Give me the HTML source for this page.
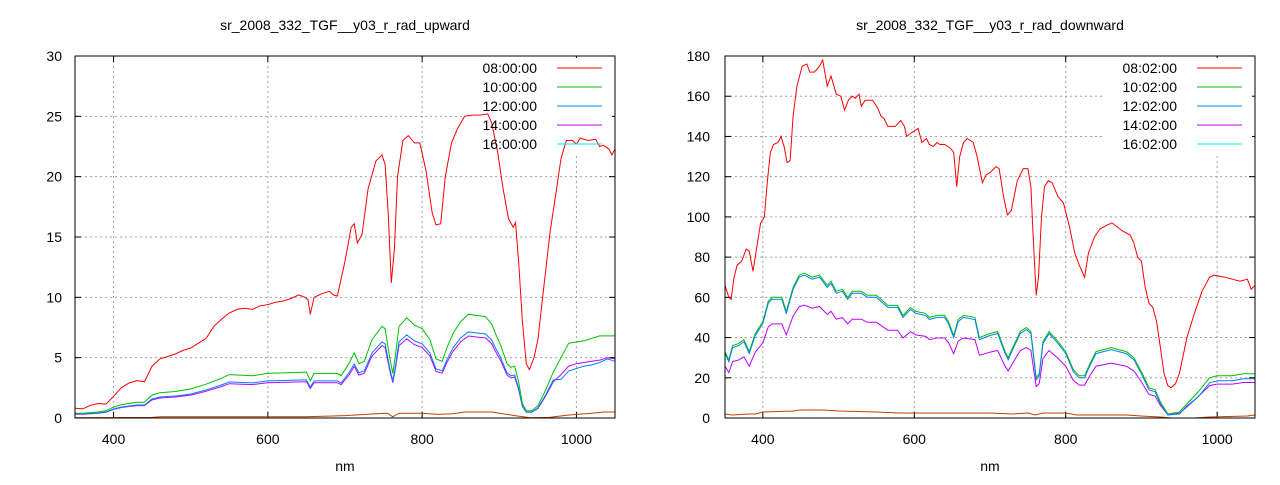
<!DOCTYPE html>
<html><head><meta charset="utf-8"><style>
body{margin:0;background:#fff;}
svg text{font-family:"Liberation Sans","DejaVu Sans",sans-serif;font-size:14px;fill:#000;}
</style></head><body>
<svg id="s" width="1280" height="480" xmlns="http://www.w3.org/2000/svg"></svg>
<script>
const S=document.getElementById('s');let out='';
function panel(o){
 const {x0,x1,y0,y1,ymax,ystep,title,legend,series,tx}=o;
 const X=v=>x0+(v-350)/700*(x1-x0), Y=v=>y1-v/ymax*(y1-y0);
 out+=`<text x="${(x0+x1)/2}" y="30" text-anchor="middle">${title}</text>`;
 for(let v=0;v<=ymax;v+=ystep){const y=Y(v);
  if(v>0&&v<ymax)out+=`<line x1="${x0}" x2="${x1}" y1="${y}" y2="${y}" stroke="#a0a0a0" stroke-dasharray="2,3"/>`;
  out+=`<line x1="${x0}" x2="${x0+6}" y1="${y}" y2="${y}" stroke="#000"/><line x1="${x1-6}" x2="${x1}" y1="${y}" y2="${y}" stroke="#000"/>`;
  out+=`<text x="${tx}" y="${y+5}" text-anchor="end">${v}</text>`;}
 for(const v of [400,600,800,1000]){const x=X(v);
  out+=`<line x1="${x}" x2="${x}" y1="${y0}" y2="${y1}" stroke="#a0a0a0" stroke-dasharray="2,3"/>`;
  out+=`<line x1="${x}" x2="${x}" y1="${y1}" y2="${y1-6}" stroke="#000"/><line x1="${x}" x2="${x}" y1="${y0}" y2="${y0+6}" stroke="#000"/>`;
  out+=`<text x="${x}" y="444" text-anchor="middle">${v}</text>`;}
 out+=`<text x="${(x0+x1)/2}" y="471" text-anchor="middle">nm</text>`;
 out+=`<rect x="${x1-150}" y="${y0+2}" width="147" height="96" fill="#fff"/>`;
 for(const s of series){
  const p=s.d.map(([a,b])=>X(a).toFixed(1)+','+Y(b).toFixed(1)).join(' ');
  out+=`<polyline points="${p}" fill="none" stroke="${s.c}" stroke-width="1"/>`;}
 const lc=['#ff0000','#00c000','#0080ff','#c000ff','#00eeee'];
 legend.forEach((t,i)=>{const y=y0+12+i*19;
  out+=`<text x="${x1-78}" y="${y+5}" text-anchor="end">${t}</text><line x1="${x1-58}" x2="${x1-13}" y1="${y}" y2="${y}" stroke="${lc[i]}"/>`;});
 out+=`<rect x="${x0}" y="${y0}" width="${x1-x0}" height="${y1-y0}" fill="none" stroke="#000"/>`;
}
const P=s=>s.trim().split(/\s*,\s*/).map(t=>t.split(':').map(Number));
const uR=P(`350:0.8,360:0.75,370:1.05,380:1.2,390:1.15,400:1.8,410:2.5,420:2.9,430:3.1,440:3.0,450:4.3,460:4.9,470:5.1,480:5.3,490:5.6,500:5.8,510:6.2,520:6.6,530:7.6,540:8.2,550:8.7,560:9.0,570:9.1,580:9.0,590:9.3,600:9.4,610:9.6,620:9.7,630:9.9,640:10.2,648:10.0,652:9.8,655:8.6,660:10.0,670:10.3,680:10.5,685:10.2,690:10.1,700:13.0,708:15.8,712:16.1,716:14.5,722:15.2,730:19.0,740:21.3,748:21.8,752:21.0,756:17,760:11.2,764:14,768:20,775:23,782:23.4,790:22.8,797:22.8,805:20.5,813:17,818:16,824:16.1,830:20.0,838:22.8,846:24.0,855:25.0,865:25.1,875:25.1,885:25.2,890:24.5,898:22,905:19,912:16.5,918:15.8,921:16.2,925:13,930:8,935:4.5,939:4.0,945:5,950:6.5,958:11,966:15.5,972:18,980:21.5,987:23.0,995:23.0,1000:22.7,1005:23.2,1015:23.0,1025:23.1,1030:22.5,1035:22.6,1042:22.3,1046:21.8,1050:22.3`);
const uG=P(`350:0.4,360:0.4,380:0.5,390:0.6,400:0.9,410:1.1,430:1.3,440:1.3,450:1.9,460:2.1,480:2.2,500:2.4,520:2.8,540:3.3,550:3.6,580:3.5,600:3.7,650:3.8,655:3.1,660:3.7,690:3.7,695:3.5,705:4.5,712:5.4,718:4.5,725:4.7,735:6.5,748:7.6,752:7.4,758:5,762:3.7,766:5.5,770:7.6,780:8.3,790:7.7,800:7.4,810:6.5,818:4.9,826:4.7,832:5.8,840:7.0,850:8.0,860:8.6,870:8.5,882:8.4,890:7.8,895:7.0,902:6.0,910:4.5,915:4.2,920:4.3,925:3.0,930:1.2,935:0.6,942:0.6,950:1.0,960:2.3,970:3.8,980:5.0,990:6.2,1010:6.4,1030:6.8,1050:6.8`);
const uB=uG.filter(([a])=>a<980).map(([a,b])=>[a,Math.max(0.35,b*0.83)]).concat(P(`980:3.2,990:3.9,1000:4.1,1010:4.3,1020:4.4,1030:4.6,1040:4.9,1050:4.7`));
const uM=uG.filter(([a])=>a<980).map(([a,b])=>[a,Math.max(0.3,b*0.79)]).concat(P(`980:3.6,990:4.3,1000:4.5,1010:4.6,1020:4.7,1030:4.8,1040:5.0,1050:4.9`));
const uO=P(`350:0.02,450:0.05,460:0.1,650:0.1,700:0.2,740:0.35,755:0.4,762:0.1,770:0.4,800:0.4,820:0.3,840:0.35,855:0.5,890:0.5,920:0.2,940:0.02,965:0.05,990:0.25,1020:0.4,1035:0.5,1050:0.5`);
panel({x0:75,x1:615,y0:56,y1:418,ymax:30,ystep:5,tx:62,title:'sr_2008_332_TGF__y03_r_rad_upward',
 legend:['08:00:00','10:00:00','12:00:00','14:00:00','16:00:00'],
 series:[{d:uO,c:'#c04000'},{d:uM,c:'#c000ff'},{d:uB,c:'#0080ff'},{d:uG,c:'#00c000'},{d:uR,c:'#ff0000'}]});
const dR=P(`350:66,355:60,358:59,362:70,366:76,372:78,378:84,382:83,387:73,392:85,397:97,402:100,406:118,410:132,414:136,420:137,424:140,428:135,432:127,436:128,440:150,445:165,452:175,458:176,462:172,468:172,475:175,479:178,485:165,490:170,497:161,503:160,508:153,513:158,518:160,522:159,527:161,530:155,535:158,545:158,552:154,556:150,560:149,565:145,575:145,582:148,587:145,590:140,597:142,605:144,610:137,616:139,620:136,625:135,630:137,634:136,640:136,648:134,652:132,656:115,660:130,665:137,670:139,678:137,683:130,690:117,695:121,700:122,708:125,712:124,718:110,723:101,728:103,736:118,744:124,750:124,754:115,757:90,761:61,764:70,768:100,772:115,777:118,782:117,790:110,797:107,805:95,812:82,818:76,825:70,830:82,838:90,845:94,855:96,861:97,868:95,875:93,885:91,890:87,895:80,900:78,905:65,910:57,915:55,920:48,925:35,930:22,935:16,939:15,945:17,950:22,960:40,970:52,980:63,990:70,996:71,1010:70,1020:69,1030:68,1040:69,1045:64,1050:66`);
const dG=P(`350:33,355:29,360:36,368:37,375:39,382:33,390:42,400:48,407:58,412:60,420:60,425:60,431:53,440:65,448:71,455:72,465:70,475:71,485:66,490:68,497:63,505:64,512:60,518:63,530:63,538:61,550:61,556:59,565:56,578:56,585:51,595:55,602:53,615:52,620:50,630:51,640:51,645:48,652:41,658:49,665:51,680:50,686:40,700:42,710:43,720:33,724:30,730:35,740:43,748:45,754:43,758:30,761:20,765:22,770:38,778:43,790:38,800:33,810:24,818:21,825:21,832:27,840:33,860:35,880:33,890:30,900:23,910:15,918:14,925:8,935:2,950:3,960:7,975:13,990:20,1000:21,1020:21,1035:22,1050:22`);
const dB=dG.map(([a,b])=>[a,Math.max(1.5,b-1-(a>960?1.5:0))]);
const dM=dG.map(([a,b])=>[a,Math.max(1.5,b*0.78+(a>960?0.5:0))]);
const dO=P(`350:2,360:1.5,380:2,390:2,400:3,440:3.5,450:4,480:4,500:3.5,550:3,580:2.5,650:2.5,700:2.5,730:2,750:2.5,760:1.5,770:2.5,800:2.5,815:1.5,880:1.5,900:1,925:0.5,940:0,970:0,990:0.5,1040:1,1050:1.5`);
panel({x0:725,x1:1255,y0:56,y1:418,ymax:180,ystep:20,tx:710,title:'sr_2008_332_TGF__y03_r_rad_downward',
 legend:['08:02:00','10:02:00','12:02:00','14:02:00','16:02:00'],
 series:[{d:dO,c:'#c04000'},{d:dM,c:'#c000ff'},{d:dG,c:'#00c000'},{d:dB,c:'#0080ff'},{d:dR,c:'#ff0000'}]});
S.innerHTML=out;
</script>
</body></html>
